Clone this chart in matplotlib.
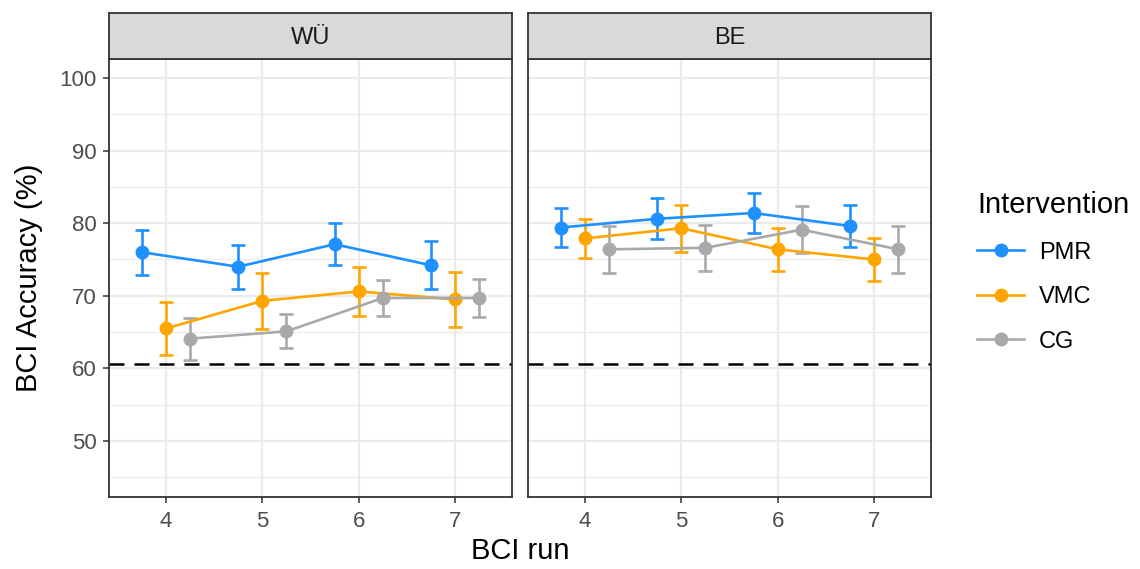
import matplotlib.pyplot as plt
from matplotlib.lines import Line2D
import numpy as np

plt.rcParams['font.family'] = ['Liberation Sans', 'DejaVu Sans']

runs = [4, 5, 6, 7]
sites = ['WÜ', 'BE']
groups = ['PMR', 'VMC', 'CG']
colors = {'PMR': '#1E90FF', 'VMC': '#FFA500', 'CG': '#A9A9A9'}
offsets = {'PMR': -0.25, 'VMC': 0.0, 'CG': 0.25}
chance = 60.6

# mean accuracy and standard error per run
wue_mean = {'PMR': [76.0, 74.0, 77.1, 74.2],
            'VMC': [65.5, 69.3, 70.6, 69.5],
            'CG':  [64.1, 65.1, 69.7, 69.7]}
wue_se = {'PMR': [3.1, 3.0, 2.9, 3.3],
          'VMC': [3.6, 3.85, 3.4, 3.8],
          'CG':  [2.9, 2.35, 2.45, 2.65]}
be_mean = {'PMR': [79.4, 80.6, 81.4, 79.6],
           'VMC': [77.9, 79.3, 76.4, 75.0],
           'CG':  [76.4, 76.6, 79.1, 76.4]}
be_se = {'PMR': [2.7, 2.8, 2.75, 2.95],
         'VMC': [2.65, 3.25, 3.0, 3.0],
         'CG':  [3.25, 3.2, 3.2, 3.25]}

data = {'WÜ': (wue_mean, wue_se), 'BE': (be_mean, be_se)}

fig = plt.figure(figsize=(11.4, 5.69), dpi=100)
W, H = 1140, 569
panels = [(109, 512), (528, 931)]
top, bottom = 59, 497
strip_top = 13

for (x0, x1), site in zip(panels, sites):
    ax = fig.add_axes([x0 / W, 1 - bottom / H, (x1 - x0) / W, (bottom - top) / H])
    means, ses = data[site]
    ax.set_xlim(3.41, 7.59)
    ax.set_ylim(42.3, 102.6)
    ax.set_yticks([50, 60, 70, 80, 90, 100])
    ax.set_yticks([45, 55, 65, 75, 85, 95], minor=True)
    ax.set_xticks(runs)
    ax.grid(True, which='major', color='#EBEBEB', lw=1.6, zorder=0)
    ax.grid(True, which='minor', axis='y', color='#EBEBEB', lw=0.8, zorder=0)
    ax.set_axisbelow(True)
    for s in ax.spines.values():
        s.set_color('#333333')
        s.set_linewidth(1.3)
    ax.tick_params(which='major', length=4, width=1.1, color='#333333',
                   labelcolor='#4D4D4D', labelsize=16, pad=5)
    ax.tick_params(axis='x', pad=6)
    ax.tick_params(which='minor', length=0)
    if site != 'WÜ':
        ax.tick_params(axis='y', labelleft=False, length=0)

    ax.axhline(chance, color='black', lw=1.8, dashes=(6, 4), zorder=1)

    for g in groups:
        x = np.array(runs) + offsets[g]
        ax.errorbar(x, means[g], yerr=ses[g], color=colors[g], lw=1.9,
                    marker='o', markersize=9, capsize=4.7, capthick=1.9,
                    elinewidth=1.9, zorder=3)

    # facet strip
    sax = fig.add_axes([x0 / W, 1 - top / H, (x1 - x0) / W, (top - strip_top) / H])
    sax.set_facecolor('#D9D9D9')
    sax.set_xticks([])
    sax.set_yticks([])
    for s in sax.spines.values():
        s.set_color('#333333')
        s.set_linewidth(1.3)
    sax.text(0.5, 0.46, site, ha='center', va='center', fontsize=17,
             color='#1A1A1A', transform=sax.transAxes)

fig.text(520 / W, 1 - 551 / H, 'BCI run', ha='center', va='center', fontsize=21)
fig.text(29 / W, 1 - 278 / H, 'BCI Accuracy (%)', ha='center', va='center',
         fontsize=21, rotation=90)

handles = [Line2D([], [], color=colors[g], lw=1.9, marker='o', markersize=9)
           for g in groups]
leg = fig.legend(handles, groups, title='Intervention', loc='upper left',
                 bbox_to_anchor=(956 / W, 1 - 170 / H), frameon=False,
                 fontsize=17, title_fontsize=21, handlelength=2.0,
                 labelspacing=0.95, handletextpad=0.6)
leg._legend_box.align = 'left'

fig.savefig('out.png', dpi=100)
